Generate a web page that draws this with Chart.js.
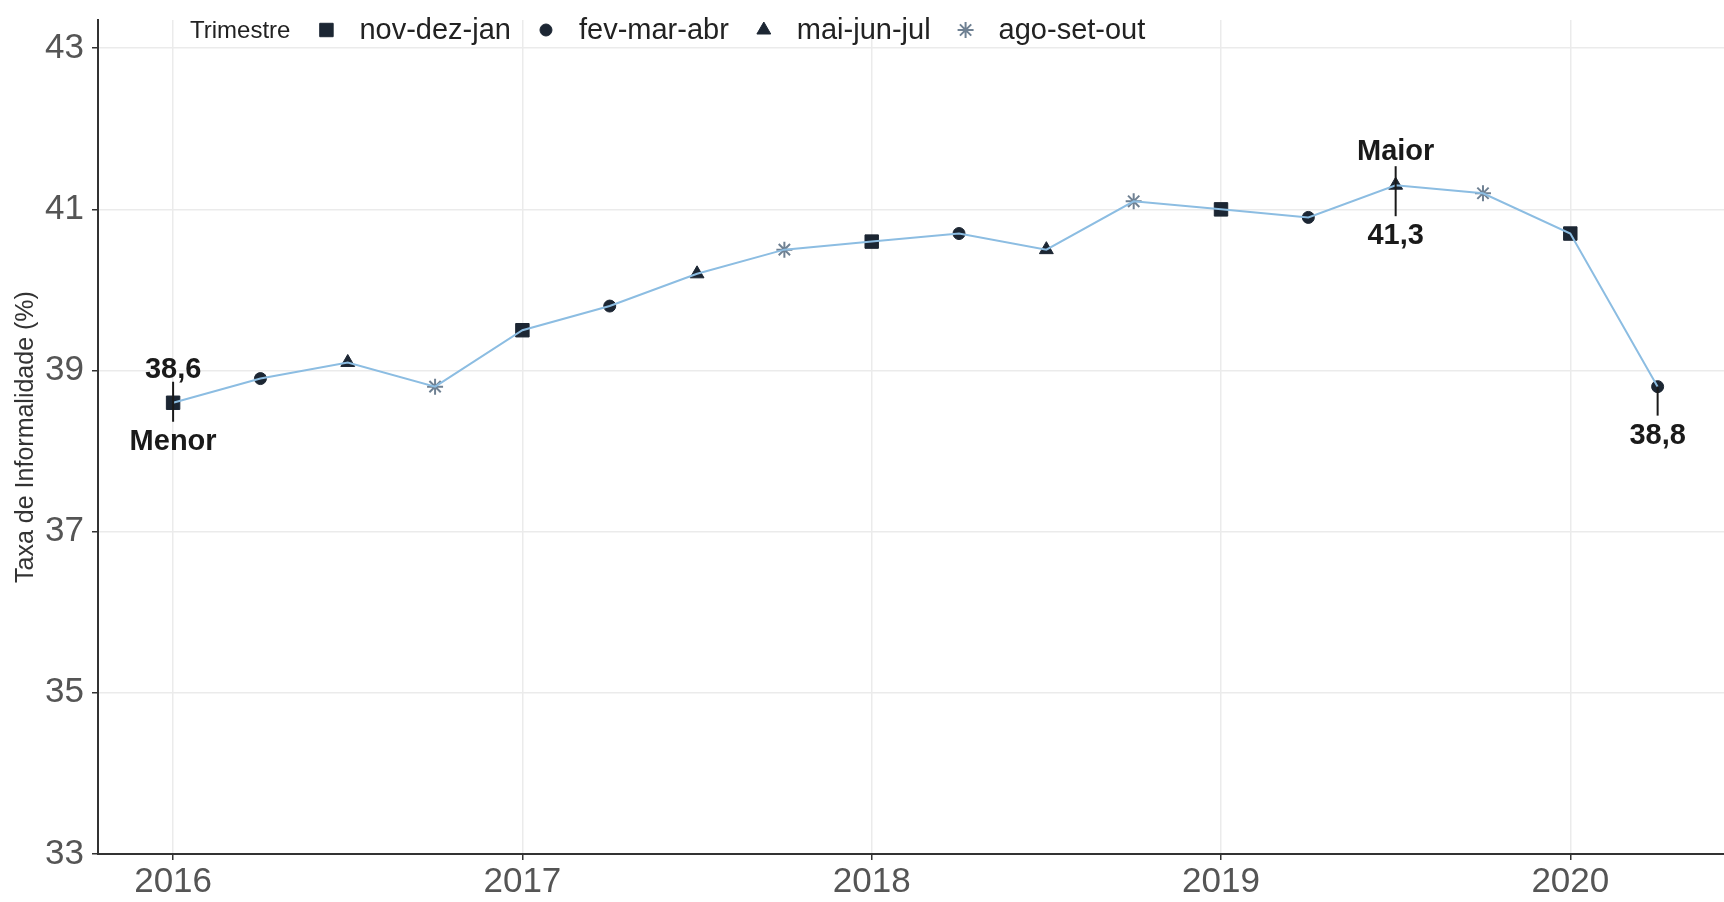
<!DOCTYPE html>
<html>
<head>
<meta charset="utf-8">
<script src="https://cdn.jsdelivr.net/npm/chart.js@4/dist/chart.umd.min.js"></script>
<style>
  html, body { margin: 0; padding: 0; background: #ffffff; overflow: hidden; }
  #wrap { width: 1724px; height: 902px; }
  canvas { display: block; }
</style>
</head>
<body>
<div id="wrap"><canvas id="taxaChart" width="1724" height="902"></canvas></div>
<script>
// quarterly points, x = year fraction
const periods = [2016, 2016.25, 2016.5, 2016.75, 2017, 2017.25, 2017.5, 2017.75,
                 2018, 2018.25, 2018.5, 2018.75, 2019, 2019.25, 2019.5, 2019.75,
                 2020, 2020.25];
const taxa = [38.6, 38.9, 39.1, 38.8, 39.5, 39.8, 40.2, 40.5,
              40.6, 40.7, 40.5, 41.1, 41.0, 40.9, 41.3, 41.2,
              40.7, 38.8];
const trimestres = ['nov-dez-jan', 'fev-mar-abr', 'mai-jun-jul', 'ago-set-out'];
const xTicks = [2016, 2017, 2018, 2019, 2020];
const yTicks = [33, 35, 37, 39, 41, 43];

// highlighted points: index, text above, text below
const destaqueIdx = [0, 14, 17];
const destaqueTop = ['38,6', 'Maior', ''];
const destaqueBottom = ['Menor', '41,3', '38,8'];

const FONT = '"Liberation Sans", Arial, sans-serif';

// marker look per trimestre
const markStyle = {
    'nov-dez-jan': { pointStyle: 'rect', radius: 9.5, fill: '#1c2633', stroke: '#1c2633', bw: 1 },
    'fev-mar-abr': { pointStyle: 'circle', radius: 6, fill: '#1c2633', stroke: '#1c2633', bw: 1 },
    'mai-jun-jul': { pointStyle: 'triangle', radius: 8, fill: '#1c2633', stroke: '#1c2633', bw: 1 },
    'ago-set-out': { pointStyle: 'star', radius: 8, fill: '#6f8193', stroke: '#6f8193', bw: 2 }
};

// segment / label offsets (px) for each highlighted point
const destaqueLayout = [
    { segTop: -21, segBottom: 19, below: 39 },
    { segTop: -19, segBottom: 31, below: 51 },
    { segTop: 0, segBottom: 29, below: 49 }
];

const points = periods.map((p, i) => ({ x: p, y: taxa[i] }));
const quarterOf = periods.map((p, i) => trimestres[i % 4]);

function drawMark(ctx, st, x, y) {
    ctx.save();
    ctx.fillStyle = st.fill;
    ctx.strokeStyle = st.stroke;
    ctx.lineWidth = st.bw;
    if (Chart.helpers && Chart.helpers.drawPoint) {
        Chart.helpers.drawPoint(ctx, { pointStyle: st.pointStyle, radius: st.radius, rotation: 0, borderWidth: st.bw }, x, y);
    } else {
        ctx.beginPath();
        ctx.arc(x, y, st.radius, 0, Math.PI * 2);
        ctx.fill();
    }
    ctx.restore();
}

const legendPlugin = {
    id: 'trimestreLegend',
    afterDraw(chart) {
        const ctx = chart.ctx;
        const y = 31;
        ctx.save();
        ctx.textBaseline = 'middle';
        ctx.textAlign = 'left';
        ctx.fillStyle = '#222222';
        ctx.font = '24px ' + FONT;
        ctx.fillText('Trimestre', 190, y);
        let x = 190 + ctx.measureText('Trimestre').width + 36;
        ctx.font = '29px ' + FONT;
        trimestres.forEach(t => {
            drawMark(ctx, markStyle[t], x, y - 1);
            ctx.fillStyle = '#222222';
            ctx.fillText(t, x + 33, y);
            x += 33 + ctx.measureText(t).width + 35;
        });
        ctx.restore();
    }
};

const destaquePlugin = {
    id: 'destaques',
    afterDatasetsDraw(chart) {
        const ctx = chart.ctx;
        const xs = chart.scales.x, ys = chart.scales.y;
        ctx.save();
        ctx.font = 'bold 29px ' + FONT;
        ctx.textAlign = 'center';
        ctx.textBaseline = 'middle';
        ctx.fillStyle = '#1a1a1a';
        ctx.strokeStyle = '#1a1a1a';
        ctx.lineWidth = 2;
        destaqueIdx.forEach((idx, k) => {
            const px = xs.getPixelForValue(periods[idx]);
            const py = ys.getPixelForValue(taxa[idx]);
            const lay = destaqueLayout[k];
            ctx.beginPath();
            ctx.moveTo(px, py + lay.segTop);
            ctx.lineTo(px, py + lay.segBottom);
            ctx.stroke();
            if (destaqueTop[k] !== '') ctx.fillText(destaqueTop[k], px, py - 33);
            if (destaqueBottom[k] !== '') ctx.fillText(destaqueBottom[k], px, py + lay.below);
        });
        ctx.restore();
    }
};

new Chart(document.getElementById('taxaChart'), {
    type: 'scatter',
    data: {
        datasets: [
            {
                label: 'linha',
                type: 'line',
                data: points,
                borderColor: '#8cbde2',
                borderWidth: 2,
                pointRadius: 0,
                tension: 0,
                order: 0
            },
            {
                label: 'trimestre',
                data: points,
                showLine: false,
                pointStyle: quarterOf.map(q => markStyle[q].pointStyle),
                pointRadius: quarterOf.map(q => markStyle[q].radius),
                pointBackgroundColor: quarterOf.map(q => markStyle[q].fill),
                pointBorderColor: quarterOf.map(q => markStyle[q].stroke),
                pointBorderWidth: quarterOf.map(q => markStyle[q].bw),
                order: 1
            }
        ]
    },
    options: {
        responsive: false,
        animation: false,
        devicePixelRatio: 1,
        layout: { autoPadding: false, padding: { top: 20, left: 0, right: 0, bottom: 0 } },
        plugins: {
            legend: { display: false },
            tooltip: { enabled: false }
        },
        scales: {
            x: {
                type: 'linear',
                min: 2015.785,
                max: 2020.44,
                afterBuildTicks: s => { s.ticks = xTicks.map(v => ({ value: v })); },
                afterFit: s => { s.height = 48; s.paddingLeft = 0; s.paddingRight = 0; },
                grid: { color: '#ebebeb', lineWidth: 1.5, tickColor: '#333333', tickLength: 6 },
                border: { color: '#333333', width: 2 },
                ticks: {
                    font: { family: FONT, size: 35 },
                    color: '#555555',
                    padding: 1,
                    maxRotation: 0,
                    callback: v => String(v)
                }
            },
            y: {
                type: 'linear',
                min: 33,
                max: 43.35,
                afterBuildTicks: s => { s.ticks = yTicks.map(v => ({ value: v })); },
                afterFit: s => { s.width = 98; s.paddingTop = 0; s.paddingBottom = 0; },
                grid: { color: '#ebebeb', lineWidth: 1.5, tickColor: '#333333', tickLength: 6 },
                border: { color: '#333333', width: 2 },
                ticks: {
                    font: { family: FONT, size: 35 },
                    color: '#555555',
                    padding: 8,
                    callback: v => String(v)
                },
                title: {
                    display: true,
                    text: 'Taxa de Informalidade (%)',
                    font: { family: FONT, size: 25 },
                    color: '#333333',
                    padding: { top: 11, bottom: 0 }
                }
            }
        }
    },
    plugins: [legendPlugin, destaquePlugin]
});
</script>
</body>
</html>
